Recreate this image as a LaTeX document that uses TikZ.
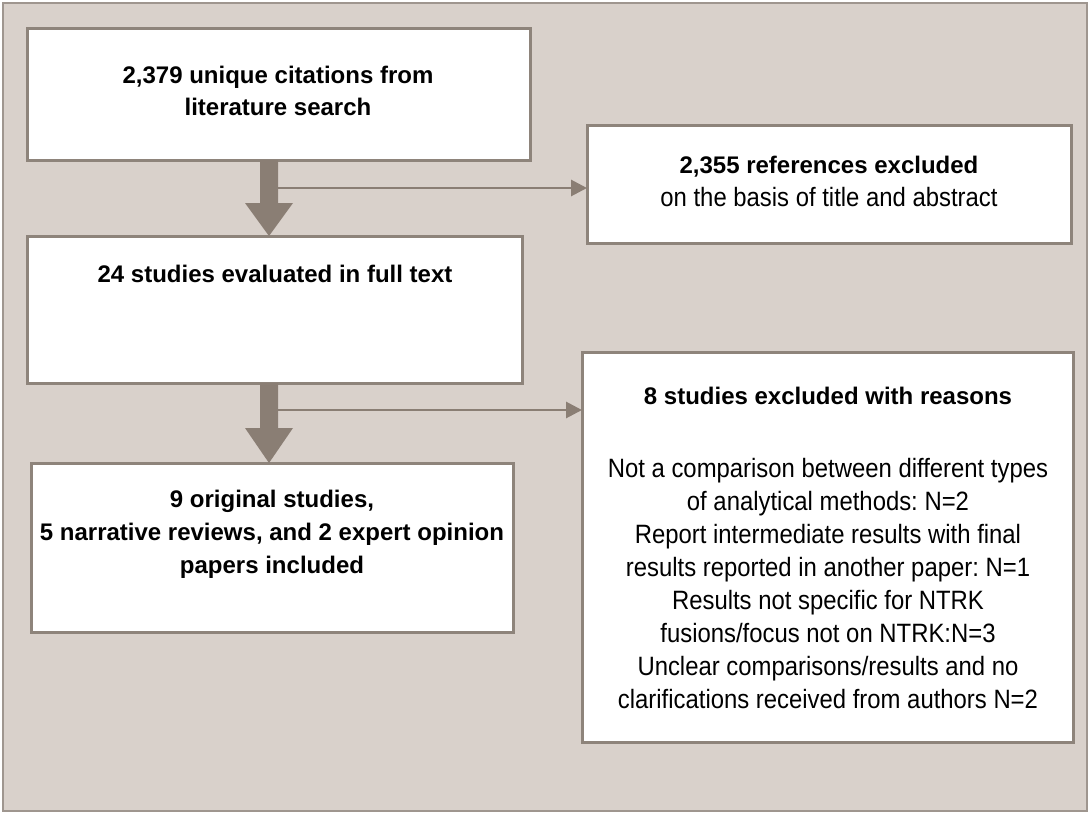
\documentclass[tikz,border=0pt]{standalone}
\usepackage{fontspec}
\setmainfont{Liberation Sans}
\newfontfamily\narrowfont{Liberation Sans}[FakeStretch=0.9]
\usetikzlibrary{arrows.meta,calc}
\frenchspacing
\definecolor{bgc}{HTML}{D9D1CB}
\definecolor{edgec}{HTML}{8E847B}
\definecolor{arrc}{HTML}{8A7E74}
\newcommand{\regtext}{\narrowfont\fontsize{19.9}{24.75}\selectfont}
\tikzset{
  box/.style={draw=edgec, line width=2.25pt, fill=white, rectangle, inner sep=0pt, outer sep=0pt},
  txt/.style={align=center, inner sep=0pt, font=\regtext, text=black},
  boldtxt/.style={align=center, inner sep=0pt, font=\fontsize{18}{24.75}\selectfont\bfseries, text=black},
  bigarrow/.style={fill=arrc},
  thinarrow/.style={draw=arrc, line width=2.2pt, -{Triangle[length=12pt,width=12pt]}},
}
\begin{document}
\frenchspacing
\begin{tikzpicture}[x=0.75pt,y=-0.75pt]
\useasboundingbox (0,0) rectangle (1090,814);
\fill[white] (0,0) rectangle (1090,814);
\draw[fill=bgc, draw=edgec!85, line width=1.5pt] (3,3) rectangle (1087,811);
% boxes
\node[box, minimum width=377.25pt, minimum height=99pt] (b1) at (278.5,94) {};
\node[box, minimum width=363pt, minimum height=88.5pt] (b2) at (829,184) {};
\node[box, minimum width=371.25pt, minimum height=110.25pt] (b3) at (274.5,309.5) {};
\node[box, minimum width=368.25pt, minimum height=292.5pt] (b4) at (827.5,547) {};
\node[box, minimum width=361.5pt, minimum height=126.75pt] (b5) at (272,547.5) {};
% texts
\node[boldtxt, font=\fontsize{18}{24}\selectfont\bfseries] (t1) at (278,91) {2,379 unique citations from\\literature search};
\node[txt] (t2) at (829,181) {{\rmfamily\fontsize{18}{24.75}\selectfont\bfseries 2,355 references excluded}\\on the basis of title and abstract};
\node[boldtxt] (t3) at (275,274) {24 studies evaluated in full text};
\node[boldtxt] (t4a) at (828,396) {8 studies excluded with reasons};
\node[txt] (t4b) at (828,584) {Not a comparison between different types\\of analytical methods: N=2\\Report intermediate results with final\\results reported in another paper: N=1\\Results not specific for NTRK\\fusions/focus not on NTRK:N=3\\Unclear comparisons/results and no\\clarifications received from authors N=2};
\node[boldtxt] (t5) at (272,534) {9 original studies,\\5 narrative reviews, and 2 expert opinion\\papers included};
% arrows
\coordinate (ax) at (269,0);
\coordinate (S1) at (b1.south -| ax);
\coordinate (T1) at (b3.north -| ax);
\fill[bigarrow] ($(S1)+(-9,0)$) -- ($(T1)+(-9,-33)$) -- ($(T1)+(-24,-33)$) -- (T1) -- ($(T1)+(24,-33)$) -- ($(T1)+(9,-33)$) -- ($(S1)+(9,0)$) -- cycle;
\draw[thinarrow] ($(S1)+(9,28)$) -- ($(b1.south -| b2.west)+(0,28)$);
\coordinate (S2) at (b3.south -| ax);
\coordinate (T2) at (b5.north -| ax);
\fill[bigarrow] ($(S2)+(-9,0)$) -- ($(T2)+(-9,-35)$) -- ($(T2)+(-24,-35)$) -- (T2) -- ($(T2)+(24,-35)$) -- ($(T2)+(9,-35)$) -- ($(S2)+(9,0)$) -- cycle;
\draw[thinarrow] ($(S2)+(9,27)$) -- ($(b3.south -| b4.west)+(0,27)$);
\end{tikzpicture}
\end{document}
